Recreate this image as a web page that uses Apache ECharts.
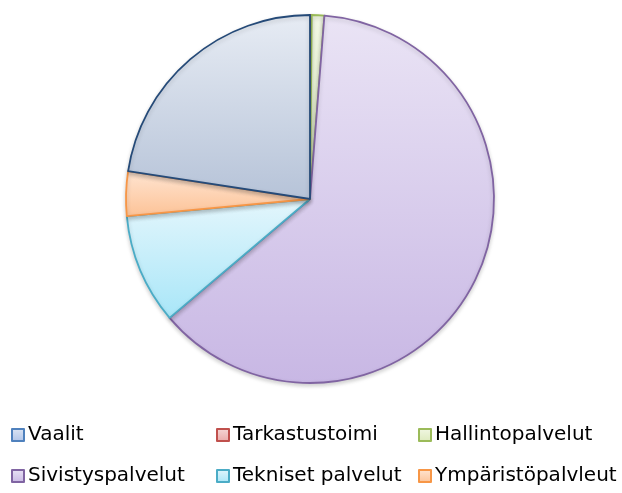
<!DOCTYPE html>
<html>
<head>
<meta charset="utf-8">
<script src="https://cdn.jsdelivr.net/npm/echarts@6/dist/echarts.min.js"></script>
<style>html,body{margin:0;padding:0;background:#fff}#c{width:622px;height:493px}</style>
</head>
<body>
<div id="c"></div>
<script>
const categories = ['Vaalit', 'Tarkastustoimi', 'Hallintopalvelut', 'Sivistyspalvelut', 'Tekniset palvelut', 'Ympäristöpalvleut', 'Muut'];
const values = [0.05, 0.1, 1.1, 62.6, 9.7, 3.9, 22.6];
const legendNames = ['Vaalit', 'Tarkastustoimi', 'Hallintopalvelut', 'Sivistyspalvelut', 'Tekniset palvelut', 'Ympäristöpalvleut'];
const borderColors = ['#4F81BD', '#C0504D', '#9BBB59', '#8064A2', '#4BACC6', '#F79646', '#254A78'];
const topColors = ['#DCE5F4', '#F6D8D7', '#F1F7E4', '#EAE4F5', '#E4F6FC', '#FFE5D2', '#E7ECF4'];
const bottomColors = ['#AFC3E8', '#EAA9A8', '#DCEABC', '#C8B7E4', '#A8E6F8', '#FCC296', '#B6C3D8'];

function grad(i) {
  return new echarts.graphic.LinearGradient(0, 0, 0, 1, [
    { offset: 0, color: topColors[i] },
    { offset: 1, color: bottomColors[i] }
  ]);
}

const chart = echarts.init(document.getElementById('c'), null, { renderer: 'canvas' });
const legendPos = [
  [11, 425], [216, 425], [418, 425],
  [11, 466], [216, 466], [418, 466]
];
const legends = legendNames.map((n, i) => ({
  data: [n],
  left: legendPos[i][0],
  top: legendPos[i][1],
  orient: 'horizontal',
  padding: 0,
  itemWidth: 12,
  itemHeight: 12,
  itemGap: 0,
  icon: 'rect',
  selectedMode: false,
  textStyle: { fontFamily: 'DejaVu Sans', fontSize: 20, color: '#000', padding: [0, 0, 0, -1] }
}));

chart.setOption({
  animation: false,
  legend: legends,
  series: [{
    type: 'pie',
    center: [310, 199],
    radius: 184,
    startAngle: 90,
    clockwise: true,
    label: { show: false },
    labelLine: { show: false },
    emphasis: { disabled: true },
    avoidLabelOverlap: false,
    minAngle: 0,
    data: categories.map((c, i) => ({
      name: c,
      value: values[i],
      itemStyle: {
        color: grad(i),
        borderColor: borderColors[i],
        borderWidth: 1.8,
        shadowBlur: 4,
        shadowOffsetY: 2,
        shadowColor: 'rgba(0,0,0,0.18)'
      }
    }))
  }]
});
</script>
</body>
</html>
